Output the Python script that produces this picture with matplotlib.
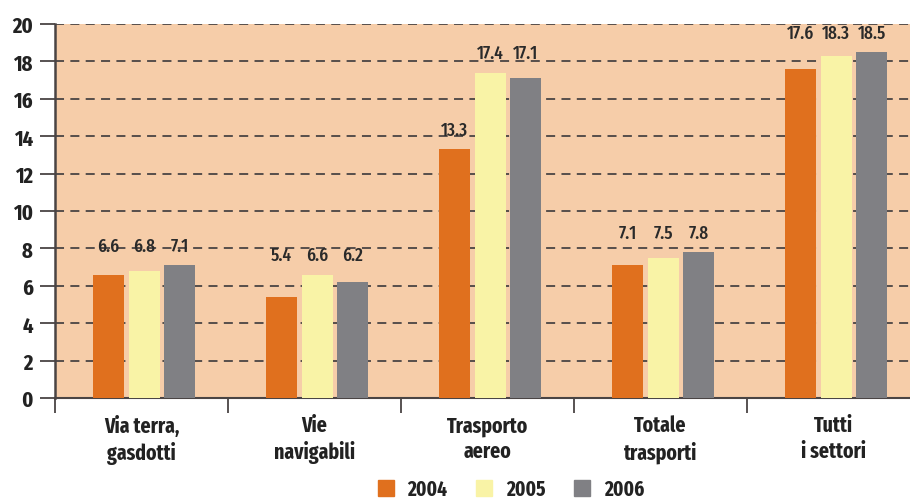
import matplotlib
matplotlib.use("Agg")
import matplotlib.pyplot as plt
from matplotlib.lines import Line2D
from matplotlib import font_manager
import numpy as np

categories = ["Via terra,\ngasdotti", "Vie\nnavigabili", "Trasporto\naereo", "Totale\ntrasporti", "Tutti\ni settori"]
years = ["2004", "2005", "2006"]
v2004 = [6.6, 5.4, 13.3, 7.1, 17.6]
v2005 = [6.8, 6.6, 17.4, 7.5, 18.3]
v2006 = [7.1, 6.2, 17.1, 7.8, 18.5]
yticks = [0, 2, 4, 6, 8, 10, 12, 14, 16, 18, 20]

colors = ["#E0701E", "#F9F3A6", "#808084"]
bg = "#F6CDA9"
dark = "#4A4444"

available = {f.name for f in font_manager.fontManager.ttflist}
family, stretch = 'DejaVu Sans', 'condensed'
for cand in ['Fira Sans Extra Condensed', 'Fira Sans Condensed', 'PT Sans Narrow', 'Roboto Condensed',
             'IBM Plex Sans Condensed', 'Liberation Sans Narrow']:
    if cand in available:
        family, stretch = cand, 'normal'
        break

plt.rcParams['font.family'] = [family, 'DejaVu Sans']
plt.rcParams['font.stretch'] = stretch

fig = plt.figure(figsize=(9.1, 5.02), dpi=100)
ax = fig.add_axes([55/910, 103/502, 865/910, 374/502])
ax.set_facecolor(bg)

series = [v2004, v2005, v2006]
x = np.arange(len(categories))
w = 0.18
step = 0.206
for i, vals in enumerate(series):
    ax.bar(x + (i - 1) * step + 0.015, vals, width=w, color=colors[i], zorder=3)

# value labels
for g in range(len(categories)):
    gvals = [s[g] for s in series]
    for i, v in enumerate(gvals):
        near = [u for u in gvals if abs(u - v) <= 1.3]
        ly = max(near) + 1.05
        ax.text(x[g] + (i - 1) * step + 0.015, ly, f"{v:.1f}", ha='center', va='center',
                fontsize=13.5, fontweight='medium', color="#2a2a2a", zorder=4)

ax.set_xlim(-0.5, len(categories) - 0.5)
ax.set_ylim(0, 20)
ax.set_yticks(yticks)
ax.set_yticklabels([str(t) for t in yticks], fontsize=16, fontweight='bold', color="#222222")
for t in yticks[1:]:
    ax.axhline(t, color=dark, linestyle=(0, (5, 3.5)), linewidth=1.3, zorder=1)

ax.set_xticks(np.arange(-0.5, len(categories)))
ax.set_xticklabels([])
ax.set_xticks(x, minor=True)
ax.set_xticklabels(categories, minor=True, fontsize=15.5, fontweight='bold', color="#222222",
                   linespacing=1.25)
ax.tick_params(axis='x', which='minor', length=0, pad=12)
ax.tick_params(axis='x', which='major', length=11, width=1.3, color=dark, direction='out')
ax.tick_params(axis='y', length=11, width=1.3, color=dark, pad=5)

for s in ['top', 'right']:
    ax.spines[s].set_visible(False)
ax.spines['left'].set_color(dark)
ax.spines['left'].set_linewidth(1.8)
ax.spines['bottom'].set_color(dark)
ax.spines['bottom'].set_linewidth(1.5)

handles = [Line2D([], [], marker='s', linestyle='none', markersize=11, markerfacecolor=c,
                  markeredgecolor=c) for c in colors]
leg = fig.legend(handles, years, loc='center', bbox_to_anchor=(0.56, 0.024), ncol=3,
                 frameon=False, prop={'size': 15, 'weight': 'bold', 'stretch': stretch,
                                      'family': [family, 'DejaVu Sans']},
                 handletextpad=0.55, columnspacing=1.25, handlelength=1.0, borderpad=0.2)
for t in leg.get_texts():
    t.set_color("#222222")

fig.savefig("out.png", dpi=100)
